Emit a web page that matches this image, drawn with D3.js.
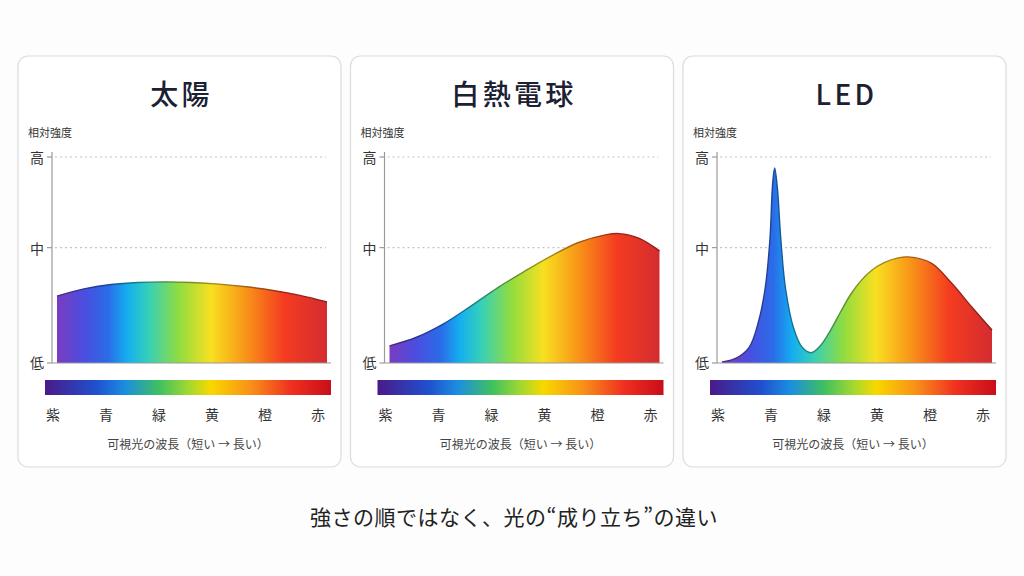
<!DOCTYPE html>
<html lang="ja">
<head>
<meta charset="UTF-8">
<title>光のスペクトル比較</title>
<script src="https://d3js.org/d3.v7.min.js"></script>
<style>
  html, body { margin: 0; padding: 0; background: #fdfdfd; }
  svg { display: block; font-family: "Noto Sans CJK JP", "Noto Sans", sans-serif; }
  .card { fill: #fff; stroke: #dcdce0; stroke-width: 1.2; }
  .title { font-size: 28px; font-weight: 500; fill: #1b2033; letter-spacing: 0.12em; }
  .ylabel { font-size: 11px; fill: #333; }
  .tick-label { font-size: 14px; fill: #333; }
  .axis-line { stroke: #9a9a9a; stroke-width: 1.2; }
  .grid { stroke: #c4c4c4; stroke-width: 1.2; stroke-dasharray: 2 3; }
  .color-name { font-size: 14px; fill: #333; }
  .xlabel { font-size: 12px; fill: #444; }
  .footer { font-size: 21px; fill: #222; letter-spacing: 0.5px; }
</style>
</head>
<body>
<div id="chart"></div>
<script>
// --- data ---
const panelTitles = ["太陽", "白熱電球", "LED"];
const yAxisTitle = "相対強度";
const levelLabels = ["低", "中", "高"];
const levelValues = [0, 0.56, 1];
const colorNames = ["紫", "青", "緑", "黄", "橙", "赤"];
const xAxisTitle = "可視光の波長（短い → 長い）";
const footerText = "強さの順ではなく、光の“成り立ち”の違い";

// wavelength (nm) and relative intensity (0..1) per light source
const sunNm  = [380, 420, 460, 500, 540, 580, 620, 660, 700, 740, 780];
const sunVal = [0.325, 0.360, 0.381, 0.391, 0.394, 0.391, 0.383, 0.370, 0.352, 0.328, 0.296];

const bulbNm  = [380, 420, 460, 500, 540, 580, 620, 660, 700, 720, 750, 780];
const bulbVal = [0.083, 0.125, 0.19, 0.275, 0.365, 0.445, 0.52, 0.585, 0.622, 0.628, 0.605, 0.544];

const ledNm  = [380, 400, 420, 434, 444, 451, 455, 458, 462, 467, 474, 486, 499, 512, 526, 541, 556, 571, 586, 601, 621, 641, 656, 690, 720, 750, 780];
const ledVal = [0.005, 0.022, 0.075, 0.2, 0.364, 0.6, 0.87, 0.947, 0.85, 0.607, 0.364, 0.17, 0.075, 0.05, 0.085, 0.16, 0.25, 0.335, 0.40, 0.448, 0.488, 0.51, 0.515, 0.485, 0.388, 0.272, 0.16];

const series = [
  { nm: sunNm, val: sunVal },
  { nm: bulbNm, val: bulbVal },
  { nm: ledNm, val: ledVal }
];

// gradient colours
const areaStops = [[0, "#7a3cc0"], [0.10, "#4a4ee0"], [0.19, "#2a6ce8"], [0.26, "#14aef0"], [0.34, "#36d0b8"],
                   [0.45, "#90dc40"], [0.57, "#f8e020"], [0.70, "#f89418"], [0.84, "#f43c20"], [1, "#d42c30"]];
const barStops = [[0, "#4a1a88"], [0.18, "#2050d0"], [0.28, "#1a8ee0"], [0.40, "#40c060"], [0.50, "#a0d830"],
                  [0.58, "#f8d800"], [0.72, "#f89018"], [0.86, "#f03020"], [1, "#c80e1a"]];

// --- layout ---
const W = 1024, H = 576;
const cardTop = 56, cardH = 411;

const svg = d3.select("#chart").append("svg")
  .attr("width", W).attr("height", H);

const defs = svg.append("defs");
function addGradient(id, stops, darken) {
  const g = defs.append("linearGradient").attr("id", id)
    .attr("x1", "0%").attr("x2", "100%").attr("y1", "0%").attr("y2", "0%");
  g.selectAll("stop").data(stops).enter().append("stop")
    .attr("offset", d => d[0] * 100 + "%")
    .attr("stop-color", d => darken ? d3.color(d[1]).darker(darken).formatHex() : d[1]);
}
addGradient("areaGrad", areaStops, 0);
addGradient("lineGrad", areaStops, 1.2);
addGradient("barGrad", barStops, 0);

const xCard = d3.scaleBand().domain(d3.range(3)).range([18, 1006]).paddingInner(0.0286);

const y = d3.scaleLinear().domain([0, 1]).range([363, 157]);

panelTitles.forEach((title, i) => {
  const x0 = xCard(i);
  const cw = xCard.bandwidth();
  const g = svg.append("g");

  g.append("rect").attr("class", "card")
    .attr("x", x0).attr("y", cardTop).attr("width", cw).attr("height", cardH)
    .attr("rx", 10).attr("ry", 10);

  g.append("text").attr("class", "title")
    .attr("x", x0 + cw / 2 + 2).attr("y", 93)
    .attr("text-anchor", "middle").attr("dominant-baseline", "central")
    .text(title);

  g.append("text").attr("class", "ylabel")
    .attr("x", x0 + 10).attr("y", 132).attr("dominant-baseline", "central")
    .text(yAxisTitle);

  const axisX = x0 + 34;
  const plotRight = x0 + 308;
  const x = d3.scaleLinear().domain([380, 780]).range([x0 + 39, x0 + 309]);

  // gridlines for 中 and 高
  g.selectAll("line.grid").data(levelValues.slice(1)).enter().append("line")
    .attr("class", "grid")
    .attr("x1", axisX + 3).attr("x2", plotRight)
    .attr("y1", d => y(d)).attr("y2", d => y(d));

  // spectrum area
  const s = series[i];
  const pts = s.nm.map((n, k) => ({ nm: n, v: s.val[k] }));
  const curve = d3.curveCatmullRom.alpha(0.5);
  const area = d3.area().curve(curve)
    .x(d => x(d.nm)).y0(y(0)).y1(d => y(d.v));
  const line = d3.line().curve(curve)
    .x(d => x(d.nm)).y(d => y(d.v));
  g.append("path").datum(pts).attr("d", area).attr("fill", "url(#areaGrad)");
  g.append("path").datum(pts).attr("d", line)
    .attr("fill", "none").attr("stroke", "url(#lineGrad)").attr("stroke-width", 1.4);

  // axes
  g.append("line").attr("class", "axis-line")
    .attr("x1", axisX).attr("x2", axisX).attr("y1", y(1) - 5).attr("y2", y(0));
  g.append("line").attr("class", "axis-line")
    .attr("x1", axisX).attr("x2", x0 + 313).attr("y1", y(0)).attr("y2", y(0));
  g.selectAll("line.tick").data(levelValues).enter().append("line")
    .attr("class", "axis-line")
    .attr("x1", axisX - 5).attr("x2", axisX)
    .attr("y1", d => y(d)).attr("y2", d => y(d));
  g.selectAll("text.tick-label").data(levelValues).enter().append("text")
    .attr("class", "tick-label")
    .attr("x", axisX - 8).attr("y", (d, k) => y(d) - (k === 0 ? 1 : 0))
    .attr("text-anchor", "end").attr("dominant-baseline", "central")
    .text((d, k) => levelLabels[k]);

  // spectrum bar
  const barX0 = x0 + 27, barX1 = x0 + 313;
  g.append("rect")
    .attr("x", barX0).attr("y", 380).attr("width", barX1 - barX0).attr("height", 15)
    .attr("fill", "url(#barGrad)");

  const xName = d3.scalePoint().domain(colorNames).range([barX0 + 8, barX1 - 13]);
  g.selectAll("text.color-name").data(colorNames).enter().append("text")
    .attr("class", "color-name")
    .attr("x", d => xName(d)).attr("y", 414)
    .attr("text-anchor", "middle").attr("dominant-baseline", "central")
    .text(d => d);

  g.append("text").attr("class", "xlabel")
    .attr("x", (barX0 + barX1) / 2).attr("y", 443)
    .attr("text-anchor", "middle").attr("dominant-baseline", "central")
    .text(xAxisTitle);
});

svg.append("text").attr("class", "footer")
  .attr("x", W / 2 + 2).attr("y", 516)
  .attr("text-anchor", "middle").attr("dominant-baseline", "central")
  .text(footerText);
</script>
</body>
</html>
